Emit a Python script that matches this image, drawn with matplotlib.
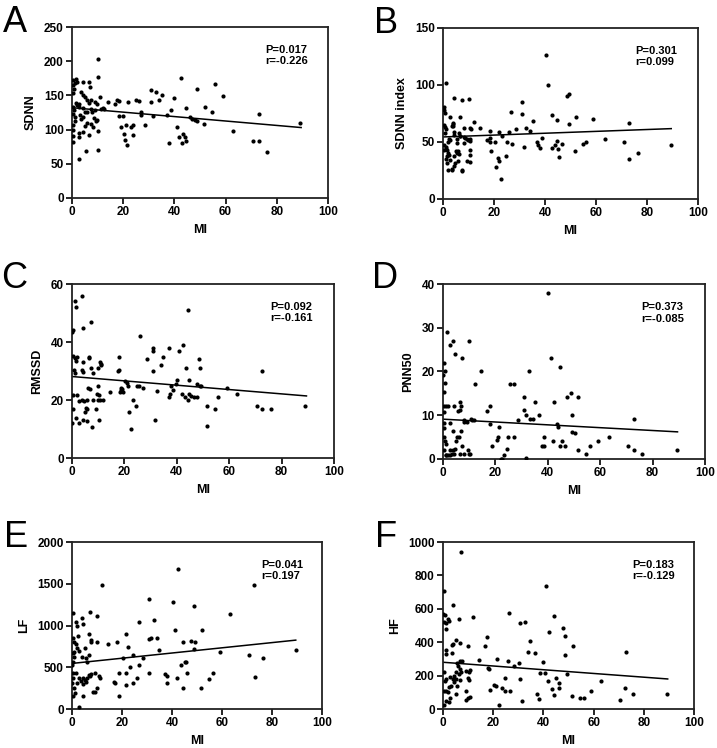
import matplotlib
matplotlib.use("Agg")
import matplotlib.pyplot as plt
import numpy as np

plt.rcParams['font.family'] = ['Liberation Sans', 'DejaVu Sans']

# ---- panel A: SDNN vs MI ----
a_mi = [0.5, 1, 0.3, 1.5, 2, 0.8, 4.2, 6.8, 7.2, 3.5, 4.2, 5, 0.3, 11, 7.4, 5.7, 6.8, 9.1, 9.6, 1.6,
        2.6, 2, 2.6, 4.2, 5, 6, 7.4, 8, 9, 8.5, 9.6, 11.3, 12, 0.3, 0.8, 0.5, 1, 1.2, 0.3, 0.5,
        0.3, 0.5, 3.5, 4.2, 5, 4.4, 2.6, 2.8, 7.4, 8.1, 6.8, 5.5, 10.3, 10.3, 2.9, 10, 10, 3, 6, 9.5,
        14, 16.8, 17.5, 18.3, 21.7, 25, 26, 30.8, 33, 35, 34, 31, 40, 42.5, 49, 56, 59, 52, 54.5, 44.6,
        38.6, 37, 27, 27, 31.5, 18.3, 46, 47, 48, 49, 73, 89, 51.6, 41, 28.4, 19, 21, 23, 23.7, 20.3,
        20.6, 21.6, 24, 38, 41.7, 43.5, 44, 44.5, 43, 63, 70.6, 73, 76, 12.5, 20]
a_val = [172, 168, 165, 174, 170, 160, 170, 169, 163, 155, 151, 148, 153, 147, 143, 143, 139, 141, 138, 139,
         137, 136, 133, 131, 126, 125, 130, 126, 128, 117, 114, 130, 131, 133, 128, 123, 119, 112, 107, 99,
         90, 82, 115, 118, 105, 97, 95, 89, 108, 104, 92, 69, 70, 98, 57, 203, 177, 121, 110, 112,
         140, 137, 144, 142, 141, 144, 142, 158, 155, 150, 144, 141, 146, 175, 160, 167, 149, 133, 126, 131,
         129, 122, 126, 121, 120, 120, 119, 116, 114, 112, 123, 109, 108, 104, 106, 104, 106, 104, 106, 93,
         85, 77, 92, 81, 89, 94, 89, 84, 80, 98, 84, 84, 67, 130, 120]
a_fit = [132, 103]

# ---- panel B: SDNN index vs MI ----
b_mi = [40.2, 41.3, 1.3, 48.5, 49.3, 4.3, 7.4, 10.2, 31, 0.3, 0.5, 0.8, 2.6, 26.6, 31, 42.8, 44.6, 52, 59, 35.2,
        49.4, 73, 6.8, 12.3, 3.9, 3.9, 0.5, 0.8, 1, 0.7, 8.3, 10.4, 11.1, 14.6, 18.3, 21.9, 25.8, 28.7, 32.6, 34.2,
        23, 4.3, 6.8, 8.1, 9.4, 10.4, 5.6, 2.3, 2.6, 2.1, 18.3, 17.2, 18.3, 20.3, 25, 27, 38.9, 37, 37.4, 38,
        31.8, 42.8, 44, 44.6, 45, 46.7, 54.8, 56, 63.5, 71, 89.6, 51.8, 76.4, 73, 45.6, 18.8, 21.4, 20.9, 21.9, 24.5,
        22.6, 1, 0.5, 1.6, 2.9, 3.5, 4.4, 4.8, 5.2, 5.5, 6.3, 5.7, 7.3, 8.1, 9.4, 10.4, 10.7, 10.7, 1.3, 2.2,
        4.4, 1, 0.5, 1.4, 1.8, 4, 3.6, 4.4, 6.2, 6.6, 5.3, 1.4, 2.1, 3.4, 5.7, 7.6, 8.6, 9.7, 10.6]
b_val = [126.6, 100, 102, 90.6, 91.8, 88.6, 86.5, 87.7, 85.4, 81, 78, 75, 72, 76.6, 74.6, 73.7, 69.6, 71.6, 70.5, 68.7,
         65.5, 66.4, 71.6, 67.5, 66, 63.7, 65, 63, 61, 58, 62, 62, 61, 62, 60, 58.5, 58.5, 61, 62, 60,
         55.6, 56, 55, 54, 53, 53, 53, 53, 52, 50, 53.5, 52, 50, 50, 50, 48.5, 53.5, 50, 47, 45,
         46, 45, 47, 50.5, 44, 48, 48.5, 50, 52.6, 50, 47.7, 41.8, 40.4, 34.8, 36.8, 41.8, 36, 28, 33, 38,
         17.5, 46, 43, 37.4, 34.5, 25.7, 29.2, 31.6, 41.8, 40.4, 39.8, 33, 24.3, 49, 33, 32.2, 39, 43, 35, 39,
         37.4, 44, 47.6, 43, 40, 67, 64, 59, 58, 55, 49, 31.6, 25, 26, 41.8, 25, 53.5, 52, 50.5]
b_fit = [54.4, 61.7]

# ---- panel C: RMSSD vs MI ----
c_mi = [3.8, 1.1, 1.5, 4.1, 7.4, 0.3, 0, 26, 44.4, 30.8, 30.8, 36.9, 41, 42.5, 34.9, 28.5, 18, 48.6, 48.9, 33.8,
        31, 43.5, 40, 44.8, 72.5, 0.5, 1.3, 1.8, 1.5, 4.3, 4.1, 0.8, 1, 3.8, 6.6, 6.4, 7.1, 7.9, 10.7, 11.2,
        10, 10.9, 17.8, 17.6, 20.2, 21.5, 20.9, 18.7, 18.6, 19.6, 24.7, 25.7, 27, 18.3, 19, 37.7, 39.7, 38.4, 47.6, 48.9,
        49.4, 59, 62.8, 55.9, 41.9, 43.3, 44.8, 45.5, 46.6, 47.6, 44.3, 32.6, 37.4, 36.9, 51.4, 54.5, 70.7, 72.5, 75.8, 89,
        51.7, 31.6, 22.4, 21.6, 23.4, 24.4, 9.4, 10.4, 10, 9.2, 10.4, 7.5, 5.6, 5.9, 5.3, 5, 4.6, 5.9, 3.7, 2.5,
        2, 0.5, 0.3, 0, 1.5, 2.8, 4.3, 8.1, 10.7, 12, 14.5, 10, 6.9, 6.2]
c_val = [56, 54, 52, 45, 47, 44, 43.5, 42, 51, 38, 37, 38, 37, 39, 35, 34, 35, 34, 31, 32,
         30, 31, 27, 27, 30, 35.3, 34.4, 35, 33.3, 33, 29.6, 30.4, 29.2, 30.4, 35, 34.4, 31, 29.2, 33, 32.3,
         31, 31.9, 30.4, 29.9, 26.6, 25, 25.8, 24.1, 23.5, 22.9, 25, 24.7, 24.1, 22.9, 23.9, 24.9, 25.5, 23.5, 25.5, 24.9,
         24.7, 24, 22, 21, 22, 20.9, 22, 21.3, 20.9, 20.9, 20, 23, 22, 21.2, 17.8, 17, 18, 17, 17, 18,
         11, 13, 10, 16, 20, 18, 22, 21.8, 20, 17, 13, 10.8, 12.6, 17, 17.4, 16, 19.5, 20.1, 20, 19.8,
         21.8, 21.8, 17, 12, 13.8, 12, 13, 20, 20, 20, 22.9, 24.7, 23.9, 24.1]
c_fit = [28.1, 21.4]

# ---- panel D: PNN50 vs MI ----
d_mi = [40, 1.5, 2.5, 3.7, 4.4, 7.4, 10, 0.5, 0.9, 0, 14.5, 41.2, 44.5, 32.8, 0.9, 0.3, 1.3, 1.8, 0.5, 0.3,
        4.3, 6.6, 6.9, 6.4, 5.6, 11, 10.7, 12.1, 16.8, 18, 25.7, 26.9, 30.8, 31, 28.6, 31.5, 34.3, 35.1, 36.8, 42.4,
        43.6, 43.8, 41.8, 37.6, 38.4, 38.6, 26.9, 24.9, 24.4, 23.2, 22, 22.5, 21.5, 20.8, 20.6, 18.6, 17.8, 31.8, 49.2, 49.4,
        50.4, 51.7, 48.8, 47.5, 51.6, 54.5, 56.2, 59, 63.2, 70.7, 72.7, 72.8, 76, 89.2, 45.5, 46.5, 44.6, 0.5, 0.3, 0.5,
        0.9, 1.3, 0.5, 1.3, 2.5, 3.4, 4.1, 3.8, 2.5, 2.8, 3.8, 4.7, 5.1, 5.3, 6, 6.6, 7.1, 7.9, 8.1, 9.4,
        9.8, 10.4, 6.9, 2, 1, 8, 9, 12, 33.3]
d_val = [38, 29.1, 26, 27, 24, 23, 27, 22, 20, 19.2, 20, 23, 21, 20, 17.3, 15.2, 12.2, 12, 12, 10.8,
         12.1, 13.1, 12.1, 11.2, 11, 8.8, 9.1, 17.1, 11, 12, 17.1, 17.1, 14.1, 11.1, 9, 10, 9.1, 13.1, 10, 13,
         8, 7.3, 4.2, 3, 3, 5.1, 5.1, 5.1, 2.2, 1, 0, 0.1, 7.2, 5.1, 4.3, 3, 8.1, 0.2, 10.1, 6.1,
         6, 14.1, 15.1, 14.1, 2.1, 1.1, 3, 4.1, 5.1, 3, 2.1, 9.1, 1.1, 2.1, 4, 3, 3, 8.2, 7, 5.1,
         4, 3.4, 2.1, 0.9, 0.9, 1.1, 1.1, 2.1, 2.1, 8.2, 6.4, 2.2, 4.1, 5, 5, 1.1, 3, 8.5, 1.1, 2.1,
         1.1, 1.1, 6.4, 1, 0.9, 9, 8.5, 9, 9.1]
d_fit = [9.1, 6.2]

# ---- panel E: LF vs MI ----
e_mi = [42.5, 12, 72.9, 30.7, 40.3, 48.8, 0.5, 7.2, 9.9, 63.2, 4, 4.3, 2.1, 1.6, 26.7, 32.8, 41.2, 52.1, 6.7, 21.6,
        0.5, 1, 1.6, 1.9, 7.7, 7.5, 9.9, 5.3, 14.4, 18.1, 22.4, 30.9, 31.5, 34.1, 34.9, 44.4, 47.7, 49.2, 49, 59.2,
        70.9, 76.3, 89.5, 0.5, 0.8, 1, 0.3, 0, 3.9, 5.6, 6.9, 5.9, 24.5, 28.5, 20.3, 45.2, 45.6, 43.7, 46.1, 41.9,
        44.3, 51.7, 54.7, 56.3, 26.9, 23.2, 30.8, 26.1, 21.6, 18.7, 16.8, 17.3, 21.6, 24.3, 18.7, 37.1, 38.1, 37.9, 73.1, 0.3,
        0.5, 0, 0.8, 0.3, 1.3, 2.7, 3.5, 4.5, 5.9, 6.7, 5.6, 1.6, 2.1, 4.3, 5.2, 9.1, 9.3, 10.1, 10.9, 11.1,
        8.5, 2.9, 4.5, 7.2, 7.5, 3, 2.5]
e_val = [1681, 1490, 1490, 1323, 1283, 1235, 1155, 1163, 1116, 1139, 1084, 1024, 996, 1044, 1044, 1064, 944, 952, 904, 900,
         845, 805, 773, 733, 825, 797, 797, 725, 773, 797, 745, 833, 845, 845, 705, 797, 809, 797, 717, 685,
         645, 606, 701, 665, 625, 685, 566, 526, 618, 614, 645, 566, 645, 617, 606, 566, 558, 526, 426, 367,
         255, 247, 355, 426, 526, 498, 434, 367, 426, 426, 327, 307, 287, 311, 159, 414, 398, 307, 378, 426,
         367, 307, 247, 159, 187, 367, 339, 367, 375, 406, 327, 426, 315, 299, 347, 426, 207, 255, 398, 375,
         207, 28, 155, 398, 414, 700, 880]
e_fit = [546, 825]

# ---- panel F: HF vs MI ----
f_mi = [7, 41.1, 0.5, 3.9, 26.3, 0, 0.7, 0.3, 1.3, 2, 2.3, 6.4, 11.8, 44.3, 30.5, 32.6, 1.3, 42.3, 47.6, 48.7,
        17.7, 5.3, 4, 3.5, 6.6, 10, 51.7, 34.8, 16.6, 1, 1.3, 3.7, 33.8, 36.8, 48.7, 72.7, 14.4, 6.6, 7.4, 5.6,
        6, 21.5, 25.8, 28.2, 30.3, 39.9, 17.8, 18.4, 38.6, 40.6, 49.2, 6.9, 9.3, 10.4, 10.6, 7.2, 0.3, 0.8, 1.3, 1.9,
        2.7, 4, 4.3, 3.3, 2.4, 4.3, 5.1, 6.4, 6.9, 5.3, 10, 10.4, 24.6, 30.6, 42, 44.9, 46, 43.6, 44.1, 46.3,
        62.9, 58.8, 72.6, 75.8, 89.1, 70.5, 51.5, 54.5, 56.1, 37.5, 38.2, 31.4, 26.6, 23.4, 24.6, 20.2, 21, 18.6, 22.2, 9,
        10, 10.6, 9.3, 1.1, 2.7, 2.4, 0.3, 0.5, 1.1, 5.3, 5.6]
f_val = [938, 736, 704, 620, 574, 570, 560, 520, 516, 540, 530, 540, 548, 554, 514, 520, 480, 464, 484, 436,
         434, 416, 390, 384, 396, 380, 378, 410, 380, 356, 330, 336, 344, 338, 326, 340, 294, 290, 286, 276,
         260, 300, 288, 260, 276, 280, 248, 240, 218, 214, 210, 240, 226, 220, 236, 224, 224, 170, 180, 100,
         190, 180, 160, 140, 130, 200, 220, 210, 174, 180, 186, 174, 188, 178, 166, 184, 124, 120, 84, 156,
         166, 110, 124, 90, 88, 56, 76, 66, 66, 88, 60, 48, 106, 126, 106, 146, 140, 116, 24, 54,
         64, 70, 106, 50, 64, 44, 24, 108, 108, 90, 140]
f_fit = [280, 180]

panels = [
    ('A', 'SDNN', a_mi, a_val, a_fit, 'P=0.017\nr=-0.226', 250, 50, [0.1004, 0.7353, 0.3571, 0.2286]),
    ('B', 'SDNN index', b_mi, b_val, b_fit, 'P=0.301\nr=0.099', 150, 50, [0.6179, 0.7340, 0.3556, 0.2286]),
    ('C', 'RMSSD', c_mi, c_val, c_fit, 'P=0.092\nr=-0.161', 60, 20, [0.1004, 0.3877, 0.3654, 0.2326]),
    ('D', 'PNN50', d_mi, d_val, d_fit, 'P=0.373\nr=-0.085', 40, 10, [0.6179, 0.3864, 0.3654, 0.2339]),
    ('E', 'LF', e_mi, e_val, e_fit, 'P=0.041\nr=0.197', 2000, 500, [0.1004, 0.0521, 0.3487, 0.2233]),
    ('F', 'HF', f_mi, f_val, f_fit, 'P=0.183\nr=-0.129', 1000, 200, [0.6179, 0.0521, 0.3501, 0.2233]),
]
fit_end = 89.5

fig = plt.figure(figsize=(7.17, 7.48), dpi=100)

for letter, ylab, x, y, fit, stat, ymax, ystep, pos in panels:
    ax = fig.add_axes(pos)
    ax.scatter(x, y, s=9, color='black', zorder=3, linewidths=0)
    ax.plot([0, fit_end], fit, color='black', lw=1.1, zorder=2)
    ax.set_xlim(0, 100)
    ax.set_ylim(0, ymax)
    ax.set_xticks(np.arange(0, 101, 20))
    ax.set_yticks(np.arange(0, ymax + 1, ystep))
    for s in ax.spines.values():
        s.set_linewidth(1.3)
        s.set_color('#222222')
    ax.tick_params(direction='out', length=4, width=1.2, labelsize=8.5, pad=2)
    for lbl in ax.get_xticklabels() + ax.get_yticklabels():
        lbl.set_fontweight('bold')
    ax.set_xlabel('MI', fontsize=9, fontweight='bold', labelpad=4)
    ax.set_ylabel(ylab, fontsize=9, fontweight='bold', labelpad=5)
    ax.text(0.755, 0.895, stat, transform=ax.transAxes, fontsize=8,
            fontweight='bold', va='top', ha='left', linespacing=1.15)
    ax.text(-0.27, 1.13, letter, transform=ax.transAxes, fontsize=26,
            va='top', ha='left')

fig.savefig('out.png', dpi=100)
